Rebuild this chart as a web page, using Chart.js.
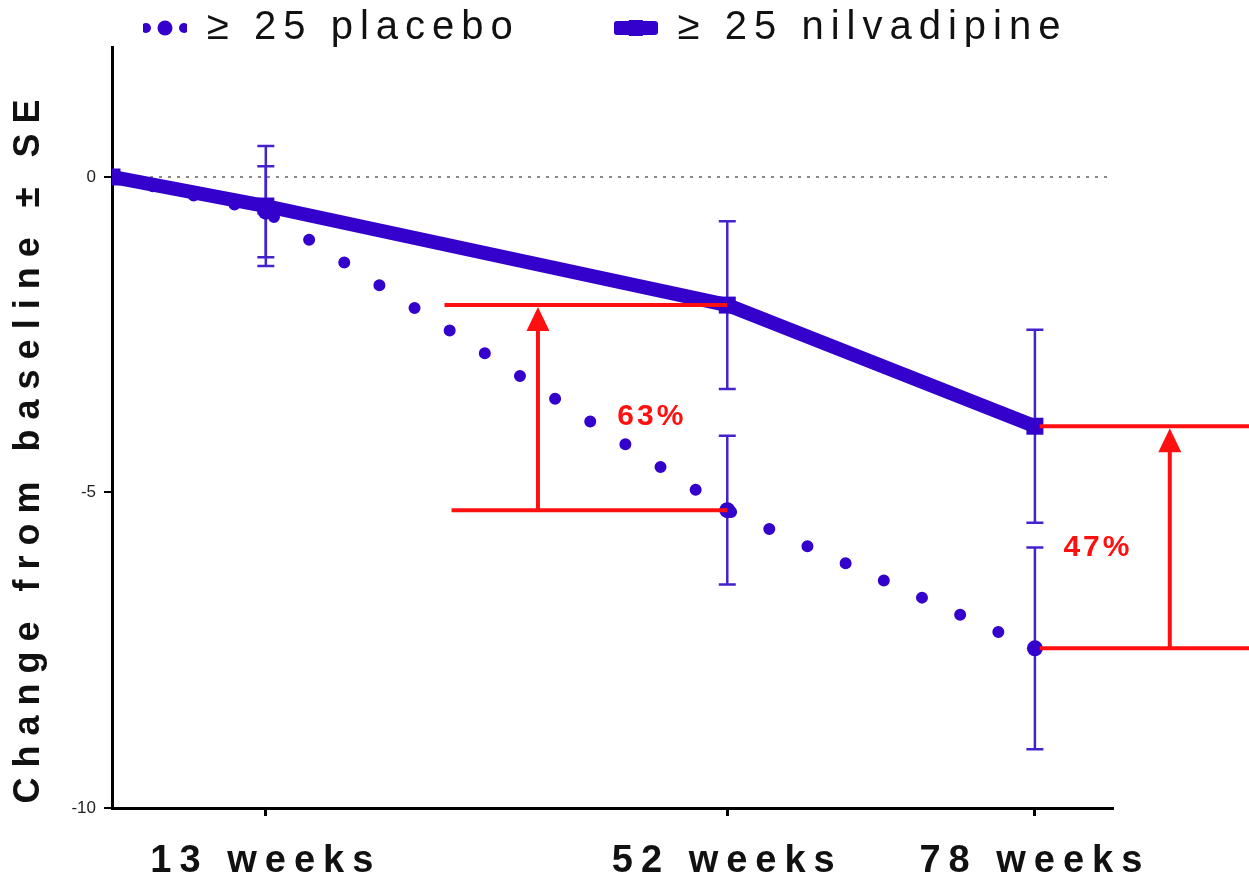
<!DOCTYPE html>
<html><head><meta charset="utf-8">
<script src="https://cdn.jsdelivr.net/npm/chart.js@4/dist/chart.umd.min.js"></script>
<style>html,body{margin:0;padding:0;background:#fff}</style>
</head><body>
<canvas id="c" width="1249" height="880"></canvas>
<script>
// ---- data ----
const weeks = [0, 13, 52, 78];
const xTickWeeks = [13, 52, 78];
const yTickValues = [0, -5, -10];
const seriesNames = ['≥ 25 placebo', '≥ 25 nilvadipine'];
const placeboMean = [0, -0.55, -5.28, -7.47];
const placeboSE   = [0, 0.72, 1.18, 1.60];
const nilvaMean   = [0, -0.46, -2.03, -3.95];
const nilvaSE     = [0, 0.95, 1.33, 1.53];
const diffLabels  = ['63%', '47%'];
const diffIndex   = [2, 3];

// ---- styles ----
const BLUE = '#3300cc';
const ERR = '#4422cc';
const RED = '#ff1010';
const FONT = '"Liberation Sans", Arial, Helvetica, sans-serif';

// annotation layout (in axis units)
const annot = [
  {upperFrom: 28.1, lowerFrom: 28.7, to: 52, arrowX: 36.0, textX: 45.5, textY: -3.80},
  {upperFrom: 78.4, lowerFrom: 78.4, to: 96.3, arrowX: 89.4, textX: 83.2, textY: -5.88}
];

// letter spacing patches
const LegendCls = Chart.Legend._element;
const oFit = LegendCls.prototype.fit;
LegendCls.prototype.fit = function () {
  const c = this.ctx; const prev = c.letterSpacing; c.letterSpacing = '7px';
  oFit.call(this); c.letterSpacing = prev;
  if (this.isHorizontal()) this.height = 47;
};
const oDraw = LegendCls.prototype.draw;
LegendCls.prototype.draw = function () {
  if (!this.options.display) return;
  const c = this.ctx; c.save(); c.letterSpacing = '7px'; c.translate(49, -86);
  if (typeof this._draw === 'function') this._draw(); else oDraw.call(this);
  c.restore();
};
const LSP = Chart.LinearScale.prototype;
const oLabels = LSP.drawLabels;
LSP.drawLabels = function (area) {
  const c = this.ctx; c.save(); c.letterSpacing = this.axis === 'x' ? '8px' : '0px';
  oLabels.call(this, area); c.restore();
};
const oTitle = LSP.drawTitle;
LSP.drawTitle = function (area) {
  const c = this.ctx; c.save(); c.letterSpacing = '10px';
  if (this.axis === 'y') c.translate(0, 19);
  oTitle.call(this, area); c.restore();
};

function makeMarker(kind) {
  const c = document.createElement('canvas'); c.width = 44; c.height = 20;
  const g = c.getContext('2d'); g.fillStyle = BLUE;
  if (kind === 'dots') {
    [[3, 5], [41, 5], [22, 7.5]].forEach(([x, r]) => { g.beginPath(); g.arc(x, 10, r, 0, Math.PI * 2); g.fill(); });
  } else {
    g.beginPath();
    if (g.roundRect) g.roundRect(0, 3, 44, 14, 3); else g.rect(0, 3, 44, 14);
    g.fill();
    g.fillRect(15, 2, 14, 16);
  }
  return c;
}
const markers = [makeMarker('dots'), makeMarker('bar')];

const errorBars = {
  id: 'errorBars',
  beforeDatasetsDraw(chart) {
    const {ctx, scales: {x, y}} = chart;
    ctx.save(); ctx.strokeStyle = ERR; ctx.lineWidth = 2.5;
    [[placeboMean, placeboSE], [nilvaMean, nilvaSE]].forEach(([m, se]) => {
      weeks.forEach((w, i) => {
        if (!se[i]) return;
        const px = x.getPixelForValue(w);
        const y1 = y.getPixelForValue(m[i] + se[i]);
        const y2 = y.getPixelForValue(m[i] - se[i]);
        ctx.beginPath();
        ctx.moveTo(px, y1); ctx.lineTo(px, y2);
        ctx.moveTo(px - 8.5, y1); ctx.lineTo(px + 8.5, y1);
        ctx.moveTo(px - 8.5, y2); ctx.lineTo(px + 8.5, y2);
        ctx.stroke();
      });
    });
    ctx.restore();
  }
};

const annotations = {
  id: 'annotations',
  afterDatasetsDraw(chart) {
    const {ctx, scales: {x, y}} = chart;
    ctx.save();
    ctx.strokeStyle = RED; ctx.fillStyle = RED; ctx.lineWidth = 4;
    annot.forEach((a, k) => {
      const i = diffIndex[k];
      const yu = y.getPixelForValue(nilvaMean[i]);
      const yl = y.getPixelForValue(placeboMean[i]);
      ctx.beginPath();
      ctx.moveTo(x.getPixelForValue(a.upperFrom), yu); ctx.lineTo(x.getPixelForValue(a.to), yu);
      ctx.moveTo(x.getPixelForValue(a.lowerFrom), yl); ctx.lineTo(x.getPixelForValue(a.to), yl);
      const ax = x.getPixelForValue(a.arrowX);
      ctx.moveTo(ax, yl); ctx.lineTo(ax, yu + 20);
      ctx.stroke();
      ctx.beginPath();
      ctx.moveTo(ax, yu + 2); ctx.lineTo(ax - 11.5, yu + 26); ctx.lineTo(ax + 11.5, yu + 26); ctx.closePath(); ctx.fill();
      ctx.font = 'bold 30px ' + FONT;
      ctx.letterSpacing = '3px';
      ctx.textAlign = 'center'; ctx.textBaseline = 'middle';
      ctx.fillText(diffLabels[k], x.getPixelForValue(a.textX) + 1.5, y.getPixelForValue(a.textY));
      ctx.letterSpacing = '0px';
    });
    ctx.restore();
  }
};

const toXY = (m) => weeks.map((w, i) => ({x: w, y: m[i]}));

new Chart(document.getElementById('c'), {
  type: 'line',
  data: {
    datasets: [
      {
        label: seriesNames[0], data: toXY(placeboMean), order: 1,
        borderColor: BLUE, backgroundColor: BLUE, borderWidth: 12,
        borderDash: [0, 41.85], borderCapStyle: 'round',
        pointStyle: 'circle', pointRadius: 8, pointBorderWidth: 0, tension: 0, fill: false
      },
      {
        label: seriesNames[1], data: toXY(nilvaMean), order: 0,
        borderColor: BLUE, backgroundColor: BLUE, borderWidth: 14,
        pointStyle: 'rect', pointRadius: 12, pointBorderWidth: 0, tension: 0, fill: false
      }
    ]
  },
  options: {
    responsive: false, animation: false, devicePixelRatio: 1,
    layout: {padding: {left: 0, right: 136, top: 0, bottom: 0}},
    plugins: {
      tooltip: {enabled: false},
      legend: {
        position: 'top', align: 'start',
        labels: {
          usePointStyle: true, pointStyleWidth: 44, boxHeight: 20, padding: 94,
          color: '#111', font: {family: FONT, size: 40, weight: 'normal'},
          generateLabels: () => seriesNames.map((n, i) => ({
            text: n, pointStyle: markers[i], fillStyle: BLUE, strokeStyle: 'rgba(0,0,0,0)',
            lineWidth: 0, hidden: false, datasetIndex: i, fontColor: '#111'
          }))
        }
      }
    },
    scales: {
      x: {
        type: 'linear', min: 0, max: 84.6,
        afterBuildTicks: (s) => { s.ticks = xTickWeeks.map(v => ({value: v})); },
        afterFit: (s) => { s.height = 72; },
        ticks: {
          callback: (v) => v + ' weeks', autoSkip: false, maxRotation: 0, minRotation: 0,
          color: '#111', padding: 23, font: {family: FONT, size: 38, weight: 'bold'}
        },
        grid: {drawOnChartArea: false, drawTicks: true, tickLength: 8, tickColor: '#000', tickWidth: 3},
        border: {color: '#000', width: 3}
      },
      y: {
        type: 'linear', min: -10, max: 2.06,
        afterBuildTicks: (s) => { s.ticks = yTickValues.map(v => ({value: v})); },
        afterFit: (s) => { s.width = 112; },
        ticks: {color: '#222', padding: 8, font: {family: FONT, size: 17, weight: 'normal'}},
        grid: {
          drawOnChartArea: true, drawTicks: true, tickLength: 8, tickColor: '#000', tickWidth: 2,
          color: (c) => (c.tick && c.tick.value === 0) ? '#888' : 'rgba(0,0,0,0)', lineWidth: 2
        },
        border: {color: '#000', width: 3, dash: [3, 6]},
        title: {
          display: true, text: 'Change from baseline ± SE', color: '#111',
          font: {family: FONT, size: 36, weight: 'bold'}, padding: {top: 7, bottom: 0}
        }
      }
    }
  },
  plugins: [errorBars, annotations]
});
</script>
</body></html>
